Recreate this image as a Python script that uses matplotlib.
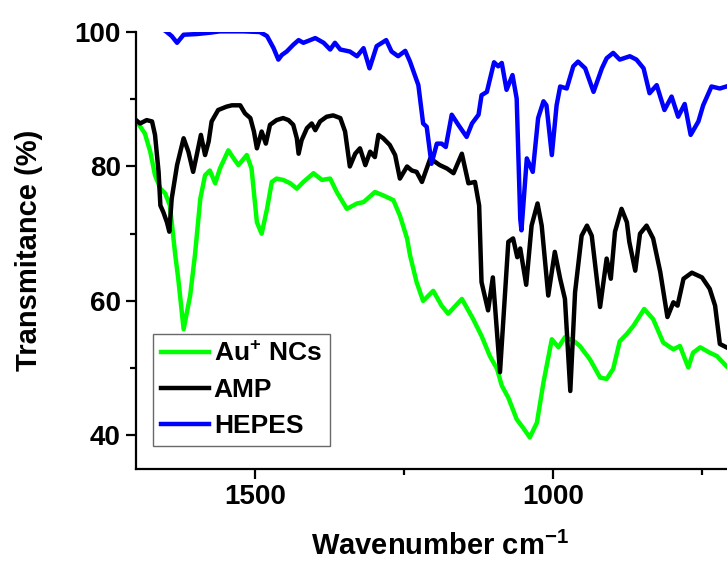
import matplotlib
matplotlib.use("Agg")
import matplotlib.pyplot as plt

plt.rcParams['font.family'] = ['Liberation Sans', 'DejaVu Sans']
plt.rcParams['font.weight'] = 'bold'
plt.rcParams['mathtext.fontset'] = 'custom'
plt.rcParams['mathtext.rm'] = 'Liberation Sans:bold'
plt.rcParams['mathtext.it'] = 'Liberation Sans:bold'
plt.rcParams['mathtext.bf'] = 'Liberation Sans:bold'

### Spectra (wavenumber cm-1, transmitance %)
au_x = [1700, 1685, 1676, 1668, 1659, 1651, 1643, 1634, 1629, 1620, 1609, 1601, 1592, 1584,
        1576, 1567, 1559, 1545, 1536, 1528, 1514, 1506, 1497, 1489, 1480, 1472, 1464, 1453,
        1441, 1430, 1419, 1402, 1388, 1374, 1363, 1346, 1329, 1318, 1299, 1285, 1268, 1257,
        1245, 1240, 1229, 1218, 1201, 1187, 1176, 1153, 1134, 1120, 1106, 1094, 1086, 1075,
        1061, 1050, 1039, 1027, 1016, 1002, 991, 980, 966, 955, 938, 921, 910, 899, 888,
        876, 865, 847, 832, 815, 798, 787, 773, 765, 753, 737, 725, 709]
au_y = [86.9, 84.9, 82.2, 78.7, 76.7, 76.0, 74.2, 66.8, 63.3, 55.8, 60.8, 66.8, 75.2, 78.7,
        79.4, 77.5, 79.7, 82.4, 81.2, 80.2, 81.7, 79.7, 71.7, 70.0, 73.7, 77.7, 78.2, 78.0,
        77.5, 76.7, 77.7, 79.0, 78.0, 78.2, 76.2, 73.7, 74.5, 74.7, 76.2, 75.7, 75.0, 72.7,
        69.3, 66.8, 62.8, 60.0, 61.5, 59.3, 58.1, 60.3, 57.3, 54.8, 51.8, 49.9, 47.4, 45.6,
        42.4, 41.1, 39.7, 41.9, 47.9, 54.3, 53.1, 54.6, 54.1, 53.3, 51.3, 48.6, 48.4, 49.9, 54.0,
        55.1, 56.3, 58.8, 57.3, 53.8, 52.8, 53.3, 50.1, 52.3, 53.1, 52.3, 51.8, 50.3]

amp_x = [1700, 1693, 1682, 1673, 1668, 1662, 1659, 1654, 1648, 1644, 1640, 1631, 1620, 1612,
         1604, 1598, 1591, 1584, 1578, 1573, 1562, 1548, 1539, 1525, 1517, 1508, 1502, 1497,
         1489, 1482, 1475, 1464, 1453, 1444, 1436, 1430, 1427, 1422, 1413, 1405, 1399, 1391,
         1380, 1369, 1357, 1349, 1341, 1332, 1324, 1315, 1307, 1299, 1293, 1285, 1274, 1265,
         1257, 1245, 1237, 1229, 1220, 1212, 1206, 1190, 1178, 1167, 1153, 1142, 1131, 1124,
         1120, 1109, 1101, 1089, 1075, 1067, 1060, 1055, 1045, 1036, 1026, 1019, 1008, 997,
         988, 980, 971, 963, 952, 943, 935, 921, 910, 903, 896, 885, 876, 872, 862, 854, 843,
         832, 820, 808, 798, 791, 781, 767, 750, 737, 728, 720, 709]
amp_y = [86.9, 86.4, 86.9, 86.7, 84.7, 79.2, 74.2, 73.2, 71.7, 70.3, 75.2, 80.2, 84.2, 82.2,
         79.2, 81.7, 84.7, 81.7, 83.7, 86.7, 88.4, 88.9, 89.1, 89.1, 87.9, 87.2, 85.2, 82.7,
         85.2, 83.4, 86.2, 86.9, 87.2, 86.9, 86.2, 84.2, 81.9, 83.9, 85.7, 86.4, 85.4, 86.7,
         87.4, 87.6, 87.2, 85.2, 80.0, 81.9, 82.7, 80.2, 82.2, 81.4, 84.7, 84.2, 83.2, 81.7,
         78.2, 80.0, 79.4, 79.2, 77.7, 79.7, 81.2, 80.2, 79.7, 79.0, 81.9, 77.5, 77.7, 74.2,
         62.8, 58.6, 63.5, 49.4, 68.8, 69.3, 66.5, 67.8, 62.4, 71.2, 74.5, 71.2, 60.8, 67.3,
         63.3, 60.3, 46.6, 61.3, 69.7, 71.2, 69.7, 59.1, 66.3, 63.3, 70.3, 73.7, 71.7, 68.8, 64.5,
         70.0, 71.2, 69.3, 64.3, 57.6, 59.8, 59.3, 63.3, 64.2, 63.5, 61.8, 59.3, 53.6, 53.1]

hepes_x = [1700, 1670, 1651, 1640, 1631, 1620, 1598, 1576, 1559, 1542, 1520, 1492, 1480, 1469,
           1461, 1455, 1447, 1436, 1427, 1419, 1399, 1385, 1374, 1366, 1357, 1341, 1329, 1318,
           1308, 1296, 1280, 1271, 1260, 1248, 1240, 1226, 1218, 1212, 1204, 1195, 1187, 1180,
           1170, 1159, 1145, 1136, 1125, 1120, 1111, 1099, 1092, 1086, 1078, 1068, 1061, 1055,
           1053, 1044, 1034, 1025, 1016, 1011, 1002, 994, 988, 977, 966, 958, 946, 932, 918,
           910, 899, 888, 871, 860, 848, 838, 826, 813, 801, 790, 779, 769, 756, 748, 734, 720, 709]
hepes_y = [102.0, 101.0, 100.2, 99.4, 98.4, 99.6, 99.7, 99.9, 100.1, 100.1, 100.1, 100.0, 99.4,
           97.6, 95.9, 96.6, 97.1, 98.1, 98.8, 98.4, 99.1, 98.4, 97.4, 98.4, 97.4, 97.1, 96.4,
           97.6, 94.6, 97.9, 98.8, 97.1, 96.4, 97.2, 95.6, 92.1, 86.4, 85.9, 80.4, 83.4, 83.4,
           82.9, 87.7, 86.2, 84.4, 86.4, 87.7, 90.6, 91.1, 95.5, 94.9, 95.4, 91.4, 93.6, 90.1,
           72.2, 70.5, 81.2, 79.2, 87.2, 89.7, 89.1, 81.7, 89.1, 91.9, 91.6, 94.9, 95.6, 94.6,
           91.1, 94.6, 96.1, 96.9, 95.9, 96.4, 95.9, 94.6, 90.9, 92.1, 88.4, 90.4, 87.4, 89.3,
           84.7, 86.7, 89.1, 91.9, 91.6, 91.9]

fig = plt.figure(figsize=(7.27, 5.66), dpi=100)
ax = fig.add_axes([0.187, 0.1714, 0.813, 0.772])

ax.plot(au_x, au_y, color='#00ff00', linewidth=3.2, label='Au$^{+}$ NCs', solid_joinstyle='round')
ax.plot(amp_x, amp_y, color='black', linewidth=3.2, label='AMP', solid_joinstyle='round')
ax.plot(hepes_x, hepes_y, color='#0000ff', linewidth=3.2, label='HEPES', solid_joinstyle='round')

ax.set_xlim(1700, 708)
ax.set_ylim(35, 100)
ax.set_xticks([1500, 1000])
ax.set_xticks([1250, 750], minor=True)
ax.set_yticks([40, 60, 80, 100])
ax.set_yticks([50, 70, 90], minor=True)

ax.spines['top'].set_visible(False)
ax.spines['right'].set_visible(False)
ax.spines['left'].set_linewidth(1.6)
ax.spines['bottom'].set_linewidth(1.6)
ax.tick_params(which='major', direction='out', length=7, width=1.6, labelsize=20, pad=4)
ax.tick_params(which='minor', direction='out', length=4, width=1.6)

ax.set_xlabel('Wavenumber cm$^{-1}$', fontsize=21, fontweight='bold')
ax.set_ylabel('Transmitance (%)', fontsize=21, fontweight='bold')
ax.xaxis.set_label_coords(0.514, -0.144)
ax.yaxis.set_label_coords(-0.158, 0.5)

leg = ax.legend(loc='lower left', bbox_to_anchor=(0.029, 0.053), fontsize=19, frameon=True,
                fancybox=False, handlelength=1.8, handletextpad=0.2, labelspacing=0.45,
                borderpad=0.3, borderaxespad=0)
leg.get_frame().set_edgecolor('#444444')
leg.get_frame().set_linewidth(1.0)

plt.savefig('out.png', dpi=100)
plt.close()
